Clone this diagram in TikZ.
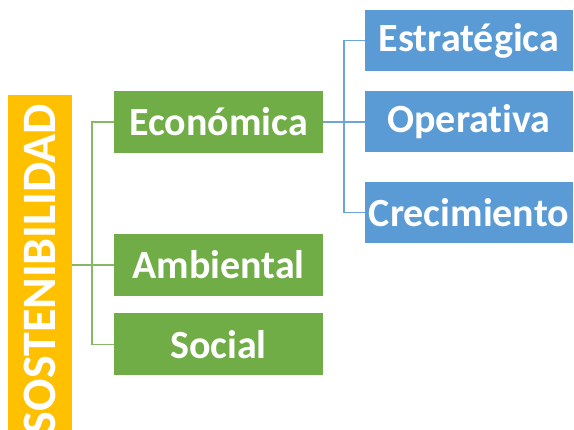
\documentclass[tikz,border=0pt]{standalone}
\usepackage{fontspec}
\setmainfont{Carlito}[Ligatures=NoCommon]
\usetikzlibrary{positioning}
\definecolor{amarillo}{HTML}{FFC000}
\definecolor{verde}{HTML}{70AD47}
\definecolor{azul}{HTML}{5B9BD5}
\tikzstyle{raiz} = [fill=amarillo, text=white, rotate=90, minimum width=348pt, minimum height=64pt, inner sep=0pt, font=\bfseries\fontsize{48}{48}\selectfont]
\tikzstyle{rama} = [fill=verde, text=white, minimum width=209pt, minimum height=62pt, inner sep=0pt, font=\bfseries\fontsize{40}{40}\selectfont]
\tikzstyle{hoja} = [fill=azul, text=white, minimum width=208pt, minimum height=61pt, inner sep=0pt, font=\bfseries\fontsize{40}{40}\selectfont]
\tikzstyle{lineaverde} = [draw=verde!85, line width=1.5pt]
\tikzstyle{lineaazul} = [draw=azul!90, line width=1.5pt]
\begin{document}
\begin{tikzpicture}[x=1pt,y=1pt]
\useasboundingbox (0,0) rectangle (574,430);
\clip (0,0) rectangle (574,430);
% nodos
\node [raiz] (sost) at (40,161) {SOSTENIBILIDAD};
\node [rama] (econ) at (218.5,308) {Económica};
\node [rama] (amb) at (218.5,165) {Ambiental};
\node [rama] (soc) at (218.5,85.5) {Social};
\node [hoja] (estr) at (469,389.5) {Estratégica};
\node [hoja] (oper) at (469,308) {Operativa};
\node [hoja] (crec) at (469,217.5) {Crecimiento};
% conectores
\draw [lineaverde] (sost.south |- amb.west) -- (amb.west);
\draw [lineaverde] (econ.west) -- ++(-22,0) |- (soc.west);
\draw [lineaazul] (econ.east) -- (oper.west);
\draw [lineaazul] (estr.west) -- ++(-21,0) |- (crec.west);
\end{tikzpicture}
\end{document}
